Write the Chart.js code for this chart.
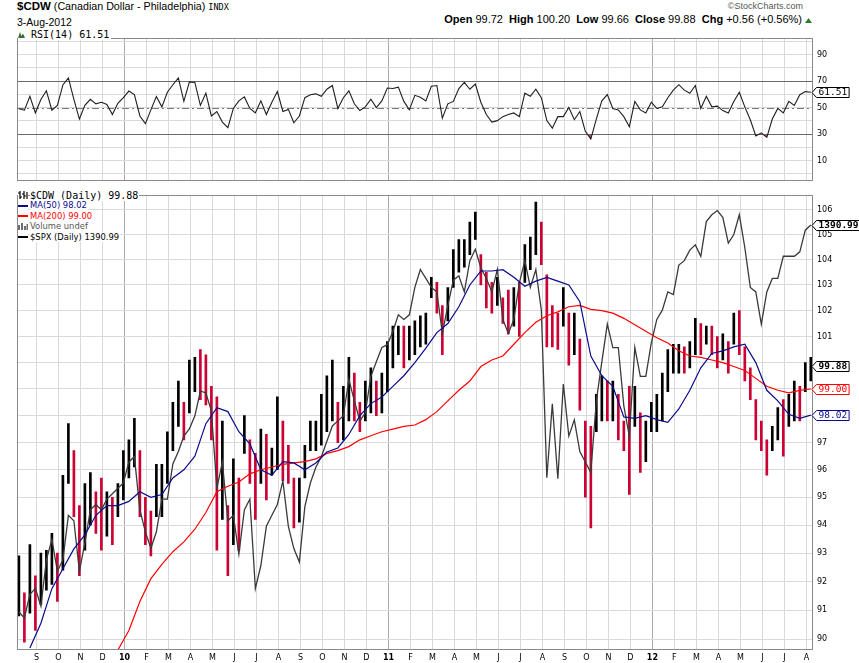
<!DOCTYPE html>
<html>
<head>
<meta charset="utf-8">
<script src="https://cdn.jsdelivr.net/npm/chart.js@4.4.1/dist/chart.umd.min.js"></script>
<style>
body { margin: 0; background: #fff; }
#page { position: relative; width: 859px; height: 663px; overflow: hidden; background: #fff;
        font-family: 'Liberation Sans', Arial, sans-serif; color: #000; }
canvas { position: absolute; left: 0; }
.t { position: absolute; white-space: nowrap; z-index: 3; }
.lg { position: absolute; left: 18px; top: 190px; z-index: 3; }
.lg div { height: 10.4px; line-height: 10.4px; white-space: nowrap; display: flex; align-items: center; }
.lg span { background: #fff; padding-right: 1px; }
.lg svg { margin-right: 2px; background: #fff; }
</style>
</head>
<body>
<div id="page">
  <canvas id="rsi" width="859" height="161" style="top:29px"></canvas>
  <canvas id="main" width="859" height="477" style="top:186px"></canvas>

  <div class="t" style="left:17px;top:0;line-height:13px;font-size:10.7px"><b style="font-size:11.5px">$CDW</b> (Canadian Dollar - Philadelphia) <span style="font:8.5px 'DejaVu Sans Mono'">INDX</span></div>
  <div class="t" id="date" style="left:17px;top:16px;line-height:12px;font-size:10.5px"></div>
  <div class="t" style="right:56px;top:1px;line-height:11px;font-size:9px;color:#555">©StockCharts.com</div>
  <div class="t" id="ohlc" style="right:57px;top:13px;line-height:12px;font-size:11px"></div>
  <svg class="t" style="left:805px;top:18px" width="7" height="5"><path d="M0 5L3.5 0L7 5Z" fill="#2f7a2f"/></svg>

  <div class="t" style="left:18px;top:29px;line-height:10px;background:#fff;padding-right:2px;font:10px 'DejaVu Sans Mono'">
    <svg width="7" height="7"><path d="M0 7L2 1L3.5 5L5 2.5L7 7Z" fill="#3b6e3b"/></svg><span id="rsiLabel"></span>
  </div>

  <div class="lg" id="legend"></div>
</div>

<script>
// ---- data (one sample every quarter month) ----
const tickLabels = ['S','O','N','D','10','F','M','A','M','J','J','A','S','O','N','D',
                    '11','F','M','A','M','J','J','A','S','O','N','D',
                    '12','F','M','A','M','J','J','A'];
const yearTicks = [4, 16, 28];
const priceTicks = [90,91,92,93,94,95,96,97,98,99,100,101,102,103,104,105,106];
const rsiTicks = [0,10,20,30,40,50,60,70,80,90,100];
const rsiLabels = [10,30,50,70,90];

const cdwHigh = [
  92.9, 91.6, 93.3, 92.2, 93.0, 93.1, 93.7, 93.0, 95.8, 97.7,
  96.7, 94.7, 95.5, 95.9, 95.2, 95.7, 95.2, 95.0, 95.5, 96.7,
  97.1, 97.9, 96.7, 95.0, 94.5, 96.2, 96.2, 97.4, 98.5, 99.3,
  98.5, 100.1, 100.2, 100.5, 100.3, 99.1, 98.7, 97.8, 94.7, 96.4,
  95.7, 98.0, 97.1, 96.6, 97.5, 97.3, 96.8, 98.7, 97.8, 96.9,
  95.7, 95.7, 96.9, 97.8, 97.8, 98.8, 99.5, 100.1, 98.5, 99.1,
  100.2, 99.6, 98.5, 99.3, 99.8, 99.3, 99.6, 100.8, 101.4, 101.4,
  101.4, 101.4, 101.6, 101.8, 101.9, 103.3, 103.1, 102.2, 102.9, 104.4,
  104.8, 104.8, 105.5, 105.9, 104.2, 103.5, 103.1, 103.3, 102.5, 102.8,
  102.9, 103.1, 104.6, 104.9, 106.3, 105.5, 103.4, 102.2, 101.9, 102.9,
  101.9, 101.9, 100.9, 97.8, 97.6, 98.8, 99.5, 99.3, 99.3, 98.8,
  97.8, 99.1, 99.1, 98.1, 97.8, 98.5, 98.8, 99.6, 100.5, 100.7,
  100.7, 100.6, 100.8, 101.7, 101.5, 101.4, 101.4, 101.0, 101.1, 100.8,
  101.9, 102.0, 100.6, 99.8, 98.6, 97.8, 97.1, 97.6, 98.3, 98.6,
  98.8, 99.3, 99.1, 100.0, 100.2
];
const cdwLow = [
  90.8, 89.9, 90.9, 90.3, 91.2, 91.7, 91.9, 91.3, 92.4, 95.5,
  94.3, 92.2, 93.1, 94.0, 93.7, 93.1, 93.6, 93.3, 94.3, 94.9,
  95.7, 96.1, 94.3, 93.3, 92.9, 94.3, 94.3, 95.5, 96.7, 97.6,
  97.1, 98.1, 98.9, 98.6, 98.4, 97.1, 93.1, 94.2, 92.2, 93.3,
  93.1, 96.6, 95.5, 94.2, 95.5, 94.9, 95.8, 96.0, 95.6, 95.5,
  93.9, 94.1, 95.7, 96.7, 96.7, 96.9, 97.4, 97.8, 97.0, 97.1,
  97.8, 97.8, 97.4, 97.8, 98.1, 98.0, 98.1, 98.9, 99.8, 100.3,
  99.8, 100.1, 100.3, 100.6, 100.7, 102.5, 101.9, 100.3, 101.6, 102.9,
  103.5, 103.7, 104.2, 104.8, 103.0, 102.1, 101.9, 102.2, 101.5, 101.1,
  101.4, 101.0, 103.1, 103.6, 104.2, 103.8, 100.6, 100.6, 100.5, 101.4,
  99.9, 100.3, 98.2, 95.0, 93.9, 97.4, 97.8, 97.8, 97.8, 97.1,
  96.7, 95.1, 97.6, 95.9, 96.3, 97.4, 97.4, 97.8, 98.9, 99.6,
  99.6, 99.6, 99.8, 100.3, 100.3, 100.7, 100.3, 99.8, 100.1, 99.6,
  100.7, 100.3, 99.3, 98.6, 97.1, 96.7, 95.8, 96.7, 97.1, 96.5,
  97.6, 97.8, 97.8, 98.9, 99.3
];
const spx = [
  1005, 1000, 1020, 1025, 1010, 1050, 1068, 1040, 1050, 1090,
  1085, 1040, 1065, 1095, 1100, 1095, 1105, 1110, 1115, 1120,
  1140, 1145, 1095, 1075, 1060, 1075, 1105, 1105, 1138, 1150,
  1165, 1172, 1185, 1210, 1208, 1190, 1115, 1140, 1085, 1090,
  1055, 1095, 1105, 1025, 1045, 1080, 1090, 1100, 1122, 1080,
  1060, 1048, 1098, 1120, 1135, 1145, 1160, 1175, 1180, 1185,
  1222, 1200, 1180, 1188, 1225, 1240, 1255, 1258, 1272, 1290,
  1285, 1290, 1320, 1340, 1330, 1320, 1315, 1270, 1300, 1328,
  1333, 1315, 1350, 1363, 1342, 1330, 1315, 1340, 1285, 1270,
  1285, 1325, 1350, 1320, 1340, 1295, 1125, 1197, 1124, 1217,
  1165, 1181, 1150, 1140, 1130, 1200, 1240, 1280, 1255, 1255,
  1195, 1165, 1255, 1225, 1225, 1260, 1285, 1295, 1315, 1312,
  1345, 1350, 1362, 1368, 1355, 1395, 1403, 1408, 1400, 1370,
  1380, 1403, 1365, 1320, 1315, 1280, 1315, 1330, 1330, 1355,
  1355, 1355, 1360, 1385, 1390.99
];
const rsi = [
  49, 48, 58.5, 46, 56, 62.6, 48, 51.6, 67, 72.3,
  56.2, 41.3, 51.6, 56.2, 52.8, 53.9, 52.3, 44.7, 53.2, 57.4,
  62.4, 59.7, 43.6, 37.8, 48.2, 58.3, 50.5, 61.5, 67.2, 72.3,
  54.6, 69.3, 68.9, 51.6, 60.8, 43.6, 47, 39, 34.8, 49.3,
  55, 58, 49.3, 46, 55, 44.7, 54, 62, 47, 48.6,
  38.5, 43.6, 57.4, 59.7, 60.3, 58.5, 63.8, 66.6, 49.3, 57.4,
  62.6, 52.8, 47.7, 50.5, 56.2, 50, 55, 64.7, 64.3, 65.4,
  54.6, 48.2, 59.2, 57.8, 55, 66, 66.6, 42, 52.8, 54.6,
  64.3, 68.9, 63.8, 67.7, 54, 44.7, 39, 40.1, 43.1, 44.7,
  45.9, 43.1, 60.8, 58.5, 63.8, 57.4, 40.1, 34.4, 43.1, 43.1,
  50, 40.8, 47, 32, 26.3, 41.3, 55, 59.7, 49.3, 48.2,
  43.1, 35.5, 54.6, 48.2, 45.9, 54, 49.3, 50.5, 57.4, 63.1,
  67.2, 63.1, 60.8, 66.6, 49.3, 58.5, 50.5, 51, 47.7, 45.9,
  54.6, 61.5, 50.5, 40.8, 28.6, 30.9, 27.5, 41.3, 49.3, 45.9,
  54.6, 51.6, 59.7, 62, 61.51
];
// moving averages, one sample every half month
const ma50 = [
  89.7, 90.55, 91.75, 92.45, 93.15, 93.65, 94.35, 94.7, 94.7, 94.85,
  95.2, 95.0, 95.1, 95.7, 96.0, 96.5, 97.7, 98.3, 98.15, 97.4,
  96.95, 96.0, 95.8, 96.3, 96.25, 96.0, 96.25, 96.65, 96.8, 97.3,
  98.0, 98.45, 98.7, 99.1, 99.5, 100.0, 100.55, 101.15, 101.5, 102.15,
  103.0, 103.55, 103.55, 103.6, 103.3, 102.95, 103.15, 103.3, 103.15, 103.0,
  102.35, 100.25, 99.5, 99.1, 97.95, 97.9, 98.0, 97.85, 97.75, 98.25,
  98.95, 99.8, 100.35, 100.45, 100.6, 100.7, 100.0, 98.95, 98.55, 98.05,
  97.9, 98.02
];
const ma200 = [
  null, null, null, null, null, null, null, null, 89.63, 90.3,
  91.3, 92.1, 92.6, 93.05, 93.4, 93.85, 94.45, 95.2, 95.4, 95.55,
  95.85, 96.0, 96.1, 96.2, 96.25, 96.3, 96.4, 96.6, 96.7, 96.85,
  97.1, 97.25, 97.4, 97.5, 97.6, 97.65, 97.85, 98.15, 98.55, 98.95,
  99.3, 99.85, 100.1, 100.25, 100.7, 101.15, 101.55, 101.8, 101.95, 102.15,
  102.2, 102.05, 102.0, 101.9, 101.7, 101.45, 101.2, 100.95, 100.75, 100.45,
  100.25, 100.2, 100.1, 100.0, 99.85, 99.7, 99.4, 99.1, 98.95, 98.85,
  98.95, 99.0
];
const lastDay = [99.72, 100.20, 99.66, 99.88];   // open, high, low, close
const lastChg = [0.56, 0.56];                    // points, percent
const lastDate = '3-Aug-2012';

// ---- layout ----
const X0 = -0.8, STEP = 0.25;        // months after 1-Sep-2009
const MA_X0 = -0.3, MA_STEP = 0.5;
const X_MIN = -0.886, X_MAX = 35.3;
const GRID = '#dadada', YEAR_GRID = '#a9a9a9', FRAME = '#8a8a8a';
const BAR_UP = '#000000', BAR_DN = '#cc0033';

Chart.defaults.font.family = 'DejaVu Sans';
Chart.defaults.font.size = 8;
Chart.defaults.color = '#000';

document.getElementById('date').textContent = lastDate;
document.getElementById('ohlc').innerHTML =
  '<b>Open</b> ' + lastDay[0].toFixed(2) + '&nbsp; <b>High</b> ' + lastDay[1].toFixed(2) +
  '&nbsp; <b>Low</b> ' + lastDay[2].toFixed(2) + '&nbsp; <b>Close</b> ' + lastDay[3].toFixed(2) +
  '&nbsp; <b>Chg</b> +' + lastChg[0].toFixed(2) + ' (+' + lastChg[1].toFixed(2) + '%)';
document.getElementById('rsiLabel').textContent = ' RSI(14) ' + rsi[rsi.length - 1].toFixed(2);

const ohlcIcon = '<svg width="10" height="8"><path d="M2 0v8M0 2h2M2 6h2M6 0v8M4 3h2M6 5h2M9 1v7" stroke="#000" stroke-width="1.2" fill="none"/></svg>';
const lineIcon = c => '<svg width="10" height="8"><rect y="3" width="10" height="2" fill="' + c + '"/></svg>';
const volIcon = '<svg width="10" height="8"><path d="M0 3h2v5H0zM3 1h2v7H3zM6 4h2v4H6zM8.5 2h1.5v6H8.5z" fill="#6e6e6e"/></svg>';
document.getElementById('legend').innerHTML =
  '<div style="font:10px \'DejaVu Sans Mono\'">' + ohlcIcon + '<span>$CDW (Daily) ' + lastDay[3].toFixed(2) + '</span></div>' +
  '<div style="font-size:8.4px;color:#0a0a8c">' + lineIcon('#0a0a8c') + '<span>MA(50) ' + ma50[ma50.length - 1].toFixed(2) + '</span></div>' +
  '<div style="font-size:8.4px;color:#f00">' + lineIcon('#f00') + '<span>MA(200) ' + ma200[ma200.length - 1].toFixed(2) + '</span></div>' +
  '<div style="font-size:8.4px;color:#555">' + volIcon + '<span>Volume undef</span></div>' +
  '<div style="font-size:8.4px">' + lineIcon('#000') + '<span>$SPX (Daily) ' + spx[spx.length - 1].toFixed(2) + '</span></div>';
document.querySelectorAll('.lg div').forEach(d => d.style.fontFamily = d.style.fontFamily || 'DejaVu Sans');

const priceX = cdwHigh.map((_, i) => X0 + i * STEP);
const maX = ma50.map((_, j) => MA_X0 + j * MA_STEP);
const barColors = cdwHigh.map((h, i) => {
  if (i === 0) return BAR_UP;
  return (h + cdwLow[i]) / 2 < (cdwHigh[i - 1] + cdwLow[i - 1]) / 2 ? BAR_DN : BAR_UP;
});

function xScale(showLabels) {
  return {
    type: 'linear', min: X_MIN, max: X_MAX, offset: false,
    afterBuildTicks: s => { s.ticks = tickLabels.map((_, k) => ({ value: k })); },
    afterFit: s => { s.height = showLabels ? 13 : 0; },
    grid: { offset: false, drawTicks: false,
            color: c => (c.tick && yearTicks.includes(c.tick.value)) ? YEAR_GRID : GRID },
    border: { display: false },
    ticks: {
      display: showLabels, autoSkip: false, maxRotation: 0, padding: 3, color: '#000',
      font: c => ({ family: 'DejaVu Sans', size: 8,
                    weight: (c.tick && yearTicks.includes(c.tick.value)) ? 'bold' : 'normal' }),
      callback: v => tickLabels[v]
    }
  };
}

function tagBox(ctx, x, y, text, color, bold) {
  y = Math.round(y) + 0.5;
  ctx.save();
  ctx.font = (bold ? 'bold ' : '') + '9.5px "DejaVu Sans Mono"';
  const w = ctx.measureText(text).width + 4;
  ctx.beginPath();
  ctx.moveTo(x, y);
  ctx.lineTo(x + 4.5, y - 5);
  ctx.lineTo(x + 4.5 + w, y - 5);
  ctx.lineTo(x + 4.5 + w, y + 5);
  ctx.lineTo(x + 4.5, y + 5);
  ctx.closePath();
  ctx.fillStyle = '#fff';
  ctx.fill();
  ctx.lineWidth = 1;
  ctx.strokeStyle = color;
  ctx.stroke();
  ctx.fillStyle = color;
  ctx.textBaseline = 'middle';
  ctx.fillText(text, x + 6.5, y + 0.5);
  ctx.restore();
}

function frame(chart) {
  const a = chart.chartArea, ctx = chart.ctx;
  ctx.save();
  ctx.strokeStyle = FRAME;
  ctx.lineWidth = 1;
  ctx.strokeRect(Math.round(a.left) + 0.5, Math.round(a.top) + 0.5,
                 Math.round(a.right - a.left) - 1, Math.round(a.bottom - a.top) - 1);
  ctx.restore();
}

// ---- RSI panel ----
new Chart(document.getElementById('rsi'), {
  type: 'line',
  data: {
    datasets: [{
      data: rsi.map((v, i) => ({ x: priceX[i], y: v })),
      borderColor: '#1e1e1e', borderWidth: 1.1, pointRadius: 0, tension: 0,
      fill: { target: { value: 30 }, above: 'rgba(0,0,0,0)', below: '#a05a5a' }
    }]
  },
  options: {
    responsive: false, animation: false, events: [],
    layout: { padding: { left: 17, right: 0, top: 2, bottom: 2 } },
    plugins: { legend: { display: false }, tooltip: { enabled: false } },
    scales: {
      x: xScale(false),
      y: {
        type: 'linear', position: 'right', min: -5.6, max: 102.6,
        afterBuildTicks: s => { s.ticks = rsiTicks.map(v => ({ value: v })); },
        afterFit: s => { s.width = 46; },
        grid: { color: GRID, drawTicks: false },
        border: { display: false },
        ticks: { padding: 4, autoSkip: false, callback: v => rsiLabels.includes(v) ? String(v) : '' }
      }
    }
  },
  plugins: [{
    id: 'rsiLines',
    beforeDatasetsDraw(chart) {
      const a = chart.chartArea, y = chart.scales.y, ctx = chart.ctx;
      ctx.save();
      ctx.lineWidth = 1;
      [[30, []], [70, []], [50, [7, 3, 2, 3]]].forEach(([v, dash]) => {
        const py = Math.round(y.getPixelForValue(v)) + 0.5;
        ctx.strokeStyle = v === 50 ? '#7a7a7a' : '#6a6a6a';
        ctx.setLineDash(dash);
        ctx.beginPath();
        ctx.moveTo(a.left, py);
        ctx.lineTo(a.right, py);
        ctx.stroke();
      });
      ctx.restore();
    },
    afterDraw(chart) {
      frame(chart);
      const last = rsi[rsi.length - 1];
      tagBox(chart.ctx, chart.chartArea.right - 1, chart.scales.y.getPixelForValue(last),
             last.toFixed(2), '#000', false);
    }
  }]
});

// ---- price panel ----
new Chart(document.getElementById('main'), {
  type: 'line',
  data: {
    datasets: [
      { type: 'line', data: ma50.map((v, j) => ({ x: maX[j], y: v })),
        borderColor: '#0a0a8c', borderWidth: 1.2, pointRadius: 0, tension: 0, yAxisID: 'y', order: 1 },
      { type: 'line', data: ma200.map((v, j) => ({ x: maX[j], y: v })).filter(p => p.y !== null),
        borderColor: '#ff0000', borderWidth: 1.2, pointRadius: 0, tension: 0, yAxisID: 'y', order: 2 },
      { type: 'line', data: spx.map((v, i) => ({ x: priceX[i], y: v })),
        borderColor: '#3a3a3a', borderWidth: 1.3, pointRadius: 0, tension: 0, yAxisID: 'spx', order: 3 },
      { type: 'bar', data: cdwHigh.map((h, i) => ({ x: priceX[i], y: [cdwLow[i], h] })),
        backgroundColor: barColors, borderWidth: 0, barThickness: 2, grouped: false,
        yAxisID: 'y', order: 4 }
    ]
  },
  options: {
    responsive: false, animation: false, events: [],
    layout: { padding: { left: 17, right: 0, top: 2, bottom: 0 } },
    plugins: { legend: { display: false }, tooltip: { enabled: false } },
    scales: {
      x: xScale(true),
      y: {
        type: 'logarithmic', position: 'right', min: 89.63, max: 106.6,
        afterBuildTicks: s => { s.ticks = priceTicks.map(v => ({ value: v })); },
        afterFit: s => { s.width = 46; },
        grid: { color: GRID, drawTicks: false },
        border: { display: false },
        // the label under the close tag is left out, as on the original
        ticks: { padding: 4, autoSkip: false,
                 callback: v => Math.abs(v - lastDay[3]) < 0.3 ? '' : String(v) }
      },
      spx: { type: 'logarithmic', display: false, min: 973.4, max: 1426.8 }
    }
  },
  plugins: [{
    id: 'tags',
    afterDraw(chart) {
      frame(chart);
      const ctx = chart.ctx, x = chart.chartArea.right - 1;
      const s = chart.scales;
      tagBox(ctx, x, s.spx.getPixelForValue(spx[spx.length - 1]), spx[spx.length - 1].toFixed(2), '#000', true);
      tagBox(ctx, x, s.y.getPixelForValue(ma200[ma200.length - 1]), ma200[ma200.length - 1].toFixed(2), '#ff0000', false);
      tagBox(ctx, x, s.y.getPixelForValue(ma50[ma50.length - 1]), ma50[ma50.length - 1].toFixed(2), '#0a0a8c', false);
      tagBox(ctx, x, s.y.getPixelForValue(lastDay[3]), lastDay[3].toFixed(2), '#000', true);
    }
  }]
});
</script>
</body>
</html>
